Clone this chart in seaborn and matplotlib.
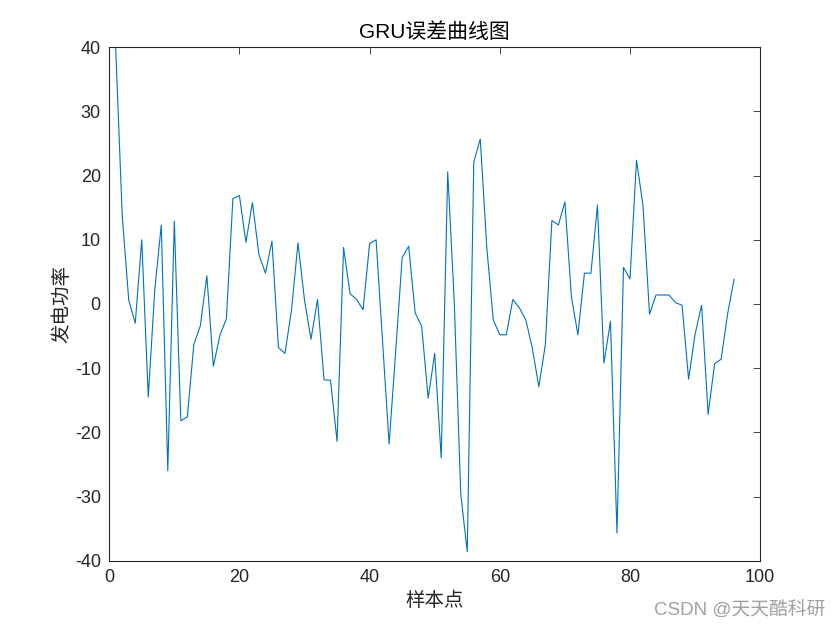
import numpy as np
import pandas as pd
import matplotlib
matplotlib.use("Agg")
import matplotlib.pyplot as plt
import seaborn as sns

# estilo parecido com o do MATLAB
sns.set_style("white")
plt.rcParams['font.family'] = ['Liberation Sans', 'Noto Sans CJK SC', 'DejaVu Sans']
plt.rcParams['axes.unicode_minus'] = False

# dados
amostras = list(range(1, 97))
erro = [39.8, 13.8, 0.6, -3.0, 10.0, -14.5, 2.2, 12.3, -26.0, 12.9,
        -18.2, -17.6, -6.3, -3.4, 4.4, -9.7, -4.9, -2.3, 16.4, 16.9,
        9.6, 15.8, 7.7, 4.8, 9.8, -6.8, -7.7, -1.0, 9.5, 0.6,
        -5.5, 0.7, -11.8, -11.9, -21.4, 8.8, 1.6, 0.7, -0.9, 9.4,
        10.0, -6.0, -21.8, -7.5, 7.2, 9.0, -1.4, -3.5, -14.7, -7.7,
        -24.0, 20.6, 0.5, -29.6, -38.6, 22.1, 25.7, 8.8, -2.5, -4.8,
        -4.8, 0.7, -0.6, -2.5, -6.9, -12.9, -6.3, 13.0, 12.3, 15.9,
        1.1, -4.8, 4.8, 4.8, 15.4, -9.2, -2.7, -35.7, 5.7, 3.9,
        22.4, 15.3, -1.6, 1.4, 1.4, 1.4, 0.2, -0.2, -11.7, -4.7,
        -0.2, -17.2, -9.3, -8.6, -1.5, 3.9]
xticks = [0, 20, 40, 60, 80, 100]
yticks = [-40, -30, -20, -10, 0, 10, 20, 30, 40]

df = pd.DataFrame({'样本点': amostras, '误差': erro})

fig = plt.figure(figsize=(8.4, 6.3), dpi=100)
ax = fig.add_axes([0.13, 0.11, 0.775, 0.815])

sns.lineplot(data=df, x='样本点', y='误差', ax=ax, color='#0072BD',
             linewidth=0.8, sort=False, estimator=None)

ax.set_xlim(0, 100)
ax.set_ylim(-40, 40)
ax.set_xticks(xticks)
ax.set_yticks(yticks)
ax.tick_params(direction='in', length=5, width=0.6, top=True, right=True,
               labelsize=13, colors='#262626', pad=6)
for s in ax.spines.values():
    s.set_color('#262626')
    s.set_linewidth(0.8)

ax.set_title('GRU误差曲线图', fontsize=15, color='black', pad=7,
             family=['Liberation Sans', 'Noto Sans CJK SC'])
ax.set_xlabel('样本点', fontsize=14, color='#262626', labelpad=3,
              family=['Noto Sans CJK SC'])
ax.set_ylabel('发电功率', fontsize=14, color='#262626', labelpad=2,
              family=['Noto Sans CJK SC'])

# marca d'agua do CSDN
fig.text(0.982, 0.032, 'CSDN @天天酷科研', ha='right', va='center',
         fontsize=13.5, color='#a0a0a0',
         family=['Liberation Sans', 'Noto Sans CJK SC'])

fig.savefig('out.png', dpi=100)
